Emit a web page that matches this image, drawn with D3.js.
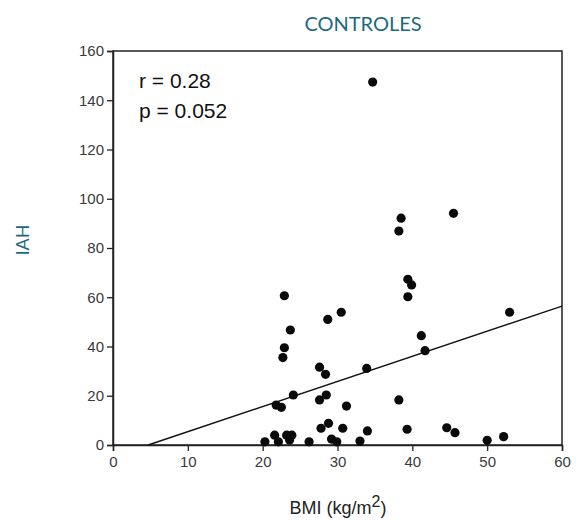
<!DOCTYPE html>
<html>
<head>
<meta charset="utf-8">
<script src="https://cdn.jsdelivr.net/npm/d3@7"></script>
<style>
  html, body { margin: 0; padding: 0; background: #fff; }
  svg { display: block; }
</style>
</head>
<body>
<svg id="chart" width="584" height="520"></svg>
<script>
// ---- data ----
const bmi = [34.7, 45.5, 38.5, 38.2, 39.4, 39.9, 39.4, 41.2, 41.7, 53.0,
             22.9, 23.7, 22.9, 22.7, 28.7, 30.5, 27.6, 28.4, 33.9,
             24.1, 21.8, 22.5, 27.6, 28.5, 31.2, 38.2,
             27.8, 28.8, 30.7, 34.0, 39.3, 44.6, 45.7,
             20.3, 21.6, 22.1, 23.2, 23.6, 23.9, 26.2, 29.2, 29.9, 33.0, 50.0, 52.2];
const iah = [147.4, 94.1, 92.1, 86.9, 67.3, 65.0, 60.2, 44.4, 38.3, 53.9,
             60.6, 46.7, 39.5, 35.5, 51.0, 53.9, 31.6, 28.7, 31.1,
             20.3, 16.2, 15.3, 18.3, 20.3, 15.8, 18.3,
             6.8, 8.8, 6.8, 5.7, 6.4, 7.0, 5.0,
             1.3, 4.0, 1.3, 4.0, 2.0, 4.0, 1.3, 2.4, 1.3, 1.6, 1.9, 3.4];
const fitLine = [[4.7, 0], [60, 56.4]];
const xTicks = [0, 10, 20, 30, 40, 50, 60];
const yTicks = [0, 20, 40, 60, 80, 100, 120, 140, 160];
const stats = ["r = 0.28", "p = 0.052"];
const title = "CONTROLES";
const yTitle = "IAH";

// ---- layout ----
const svg = d3.select("#chart");
const L = 113, R = 562, T = 51, B = 445;
const x = d3.scaleLinear().domain([0, 60]).range([L, R]);
const y = d3.scaleLinear().domain([0, 160]).range([B, T]);
const teal = "#1c6a7e";

// frame
svg.append("rect")
  .attr("x", L).attr("y", T).attr("width", R - L).attr("height", B - T)
  .attr("fill", "none").attr("stroke", "#222").attr("stroke-width", 1.5);

// axes
const xAxis = svg.append("g")
  .attr("transform", `translate(0,${B})`)
  .call(d3.axisBottom(x).tickValues(xTicks).tickSize(6).tickPadding(5));
const yAxis = svg.append("g")
  .attr("transform", `translate(${L},0)`)
  .call(d3.axisLeft(y).tickValues(yTicks).tickSize(6).tickPadding(3));
[xAxis, yAxis].forEach(g => {
  g.select(".domain").attr("stroke", "#222").attr("stroke-width", 1.5);
  g.selectAll(".tick line").attr("stroke", "#222").attr("stroke-width", 1.3);
  g.selectAll(".tick text")
    .attr("font-family", "Liberation Sans, Arial, sans-serif")
    .attr("font-size", 15).attr("fill", "#3a3a3a");
});

// regression line
svg.append("line")
  .attr("x1", x(fitLine[0][0])).attr("y1", y(fitLine[0][1]))
  .attr("x2", x(fitLine[1][0])).attr("y2", y(fitLine[1][1]))
  .attr("stroke", "#111").attr("stroke-width", 1.4);

// points
svg.append("g").selectAll("circle")
  .data(bmi.map((b, i) => [b, iah[i]]))
  .join("circle")
  .attr("cx", d => x(d[0])).attr("cy", d => y(d[1]))
  .attr("r", 4.6).attr("fill", "#0a0a0a");

// stats text
svg.append("g").selectAll("text")
  .data(stats).join("text")
  .attr("x", 139).attr("y", (d, i) => 88 + i * 30)
  .attr("font-family", "Liberation Sans, Arial, sans-serif")
  .attr("font-size", 21).attr("fill", "#111")
  .text(d => d);

// title
svg.append("text")
  .attr("x", 363).attr("y", 31)
  .attr("text-anchor", "middle")
  .attr("font-family", "Lato, 'Open Sans', sans-serif")
  .attr("font-size", 20).attr("fill", teal)
  .text(title);

// y title
svg.append("text")
  .attr("transform", "translate(29,240) rotate(-90)")
  .attr("text-anchor", "middle")
  .attr("font-family", "Lato, 'Open Sans', sans-serif")
  .attr("font-size", 18).attr("fill", teal)
  .text(yTitle);

// x title with superscript
const xt = svg.append("text")
  .attr("x", 338).attr("y", 514)
  .attr("text-anchor", "middle")
  .attr("font-family", "Liberation Sans, Arial, sans-serif")
  .attr("font-size", 18).attr("fill", "#222");
xt.append("tspan").text("BMI (kg/m");
xt.append("tspan").attr("dy", -7).attr("font-size", 16).text("2");
xt.append("tspan").attr("dy", 7).text(")");
</script>
</body>
</html>
